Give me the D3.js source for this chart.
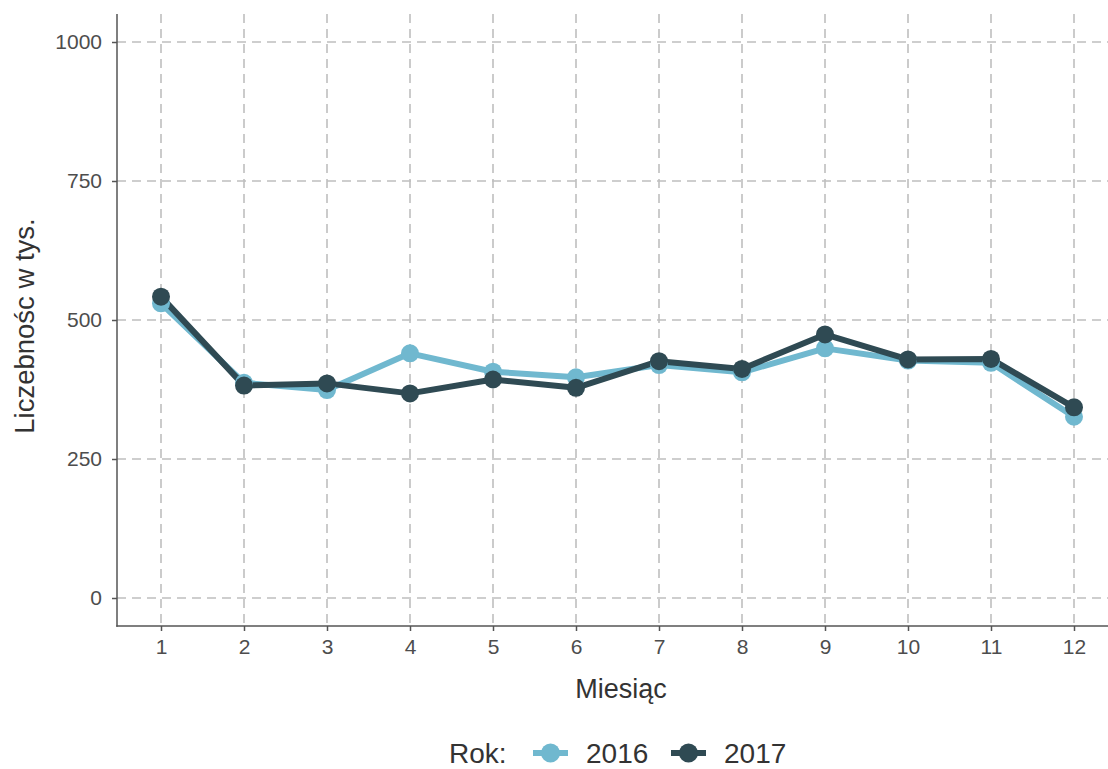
<!DOCTYPE html>
<html><head><meta charset="utf-8">
<script src="https://cdn.jsdelivr.net/npm/d3@7"></script>
<style>body{margin:0;background:#fff}svg{display:block;font-family:"Liberation Sans",Arial,sans-serif}</style>
</head><body><svg id="c" width="1108" height="769"></svg>
<script>
const months = [1,2,3,4,5,6,7,8,9,10,11,12];
const years = ["2016","2017"];
const values2016 = [530,387,374,440,407,397,419,406,449,427,423,326];
const values2017 = [542,382,386,368,393,378,426,412,474,429,430,343];
const yTicks = [0,250,500,750,1000];
const colors = {"2016":"#70b8cf","2017":"#2f4a53"};

const svg = d3.select("#c");
const L=117, R=1108, T=14, B=626;
const x = d3.scaleLinear().domain([1,12]).range([161,1074]);
const y = d3.scaleLinear().domain([0,1000]).range([598,42]);

// grid
const g = svg.append("g");
g.selectAll(".gy").data(yTicks).enter().append("line")
  .attr("x1",L).attr("x2",R).attr("y1",d=>y(d)).attr("y2",d=>y(d))
  .attr("stroke","#bfbfbf").attr("stroke-width",1.6).attr("stroke-dasharray","9,6");
g.selectAll(".gx").data(months).enter().append("line")
  .attr("x1",d=>x(d)).attr("x2",d=>x(d)).attr("y1",T).attr("y2",B)
  .attr("stroke","#bfbfbf").attr("stroke-width",1.6).attr("stroke-dasharray","9,6");

// axes
const yAxis = svg.append("g").attr("transform",`translate(${L},0)`)
  .call(d3.axisLeft(y).tickValues(yTicks).tickFormat(d3.format("d")).tickSize(5).tickPadding(10));
const xAxis = svg.append("g").attr("transform",`translate(0,${B})`)
  .call(d3.axisBottom(x).tickValues(months).tickFormat(d3.format("d")).tickSize(5).tickPadding(8));
[yAxis,xAxis].forEach(a=>{
  a.select(".domain").remove();
  a.selectAll(".tick line").attr("stroke","#555").attr("stroke-width",1.5);
  a.selectAll(".tick text").attr("fill","#4d4d4d").style("font-size","21px").style("font-family","'Liberation Sans',Arial,sans-serif");
});
svg.append("line").attr("x1",L).attr("x2",L).attr("y1",T).attr("y2",B+0.75).attr("stroke","#555").attr("stroke-width",1.5);
svg.append("line").attr("x1",L-0.75).attr("x2",R).attr("y1",B).attr("y2",B).attr("stroke","#555").attr("stroke-width",1.5);

// titles
svg.append("text").attr("x",621).attr("y",698).attr("text-anchor","middle")
  .attr("fill","#333").style("font-size","27px").text("Miesiąc");
svg.append("text").attr("transform",`translate(34,326) rotate(-90)`).attr("text-anchor","middle")
  .attr("fill","#333").style("font-size","27.5px").text("Liczebnośc w tys.");

// series
const series = [{year:"2016",vals:values2016},{year:"2017",vals:values2017}];
const line = d3.line().x((d,i)=>x(months[i])).y(d=>y(d));
series.forEach(s=>{
  svg.append("path").datum(s.vals).attr("d",line).attr("fill","none")
    .attr("stroke",colors[s.year]).attr("stroke-width",6).attr("stroke-linejoin","round");
});
series.forEach(s=>{
  svg.append("g").selectAll("circle").data(s.vals).enter().append("circle")
    .attr("cx",(d,i)=>x(months[i])).attr("cy",d=>y(d)).attr("r",9).attr("fill",colors[s.year]);
});

// legend
const ly = 753;
svg.append("text").attr("x",449).attr("y",763).attr("fill","#333").style("font-size","28px").text("Rok:");
const lx = [533, 671];
years.forEach((yr,i)=>{
  svg.append("line").attr("x1",lx[i]).attr("x2",lx[i]+35).attr("y1",ly).attr("y2",ly)
    .attr("stroke",colors[yr]).attr("stroke-width",6);
  svg.append("circle").attr("cx",lx[i]+17.5).attr("cy",ly).attr("r",9.5).attr("fill",colors[yr]);
  svg.append("text").attr("x",lx[i]+53).attr("y",763).attr("fill","#333").style("font-size","28px").text(yr);
});
</script></body></html>
